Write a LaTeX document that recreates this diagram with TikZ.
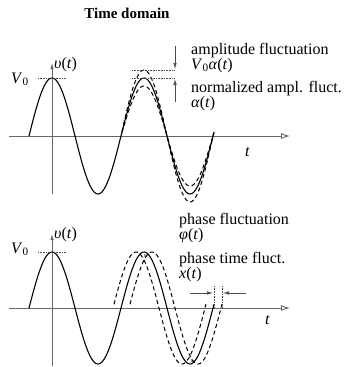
\documentclass[tikz,border=0pt]{standalone}
\usepackage{fontspec}
\setmainfont{Liberation Serif}
\usetikzlibrary{arrows.meta}
\begin{document}
\begin{tikzpicture}[x=1pt,y=-1pt,
  lbl/.style={anchor=base west, inner sep=0pt, font=\fontsize{16}{18}\selectfont},
  axisline/.style={draw=black!60, line width=0.9pt},
  haxis/.style={axisline, -{Latex[open,length=9pt,width=6pt]}},
  vaxis/.style={axisline, -{Latex[length=6pt,width=3.5pt]}},
  wave/.style={line width=1.1pt},
  dwave/.style={line width=1pt, dash pattern=on 4pt off 3pt},
  guide/.style={densely dotted, line width=0.6pt, draw=black!70},
  ind/.style={line width=0.6pt, draw=black!70, -{Latex[length=6pt,width=3.5pt]}},
  xmark/.style={inner sep=0pt, font=\fontsize{6}{6}\selectfont}
]
\useasboundingbox (0,0) rectangle (343,367);

% title
\node[anchor=base, inner sep=0pt, font=\fontsize{15}{17}\selectfont\bfseries] (title) at (127,18) {Time domain};

% ===== top panel =====
\coordinate (ta0) at (9,136);
\coordinate (ta1) at (290,136);
\coordinate (tv0) at (52,194);
\coordinate (tv1) at (52,63);
\draw[haxis] (ta0) -- (ta1);
\draw[vaxis] (tv0) -- (tv1);

\draw[wave] plot[domain=29:214,samples=150,smooth] (\x,{136-58*cos(3.913*(\x-52))});
\draw[dwave] plot[domain=122:214,samples=100,smooth] (\x,{136-66*cos(3.913*(\x-52))});
\draw[dwave] plot[domain=122:214,samples=100,smooth] (\x,{136-50*cos(3.913*(\x-52))});

\coordinate (tg0) at (38,78);
\coordinate (tg1) at (66,78);
\draw[guide] (tg0) -- (tg1);
\coordinate (tu0) at (132,70);
\coordinate (tu1) at (174,70);
\coordinate (tl0) at (132,78);
\coordinate (tl1) at (174,78);
\draw[guide] (tu0) -- (tu1);
\draw[guide] (tl0) -- (tl1);
\coordinate (ad0) at (175,46);
\coordinate (ad1) at (175,69);
\coordinate (au0) at (175,102);
\coordinate (au1) at (175,79);
\draw[ind] (ad0) -- (ad1);
\draw[ind] (au0) -- (au1);

\node[lbl] (tV) at (11,83) {\textit{V}\textsubscript{0}};
\node[lbl] (tv) at (54,68) {\textit{υ}(\textit{t})};
\node[lbl] (tt) at (245,156) {\textit{t}};
\node[lbl] (af) at (191,54) {amplitude fluctuation};
\node[lbl] (afv) at (191,69) {\textit{V}\textsubscript{0}\textit{α}(\textit{t})};
\node[lbl] (naf) at (191,92) {normalized ampl. fluct.};
\node[lbl] (nafv) at (191,107) {\textit{α}(\textit{t})};

% ===== bottom panel =====
\coordinate (ba0) at (9,308);
\coordinate (ba1) at (290,308);
\coordinate (bv0) at (52,366);
\coordinate (bv1) at (52,234);
\draw[haxis] (ba0) -- (ba1);
\draw[vaxis] (bv0) -- (bv1);

\draw[wave] plot[domain=29:214,samples=150,smooth] (\x,{308-56*cos(3.913*(\x-52))});
\draw[dwave] plot[domain=114:206,samples=100,smooth] (\x,{308-56*cos(3.913*(\x-44))});
\draw[dwave] plot[domain=130:222,samples=100,smooth] (\x,{308-56*cos(3.913*(\x-60))});

\coordinate (bg0) at (38,252);
\coordinate (bg1) at (66,252);
\draw[guide] (bg0) -- (bg1);
\coordinate (pd0) at (214,286);
\coordinate (pd1) at (214,310);
\coordinate (pe0) at (222,286);
\coordinate (pe1) at (222,310);
\draw[guide] (pd0) -- (pd1);
\draw[guide] (pe0) -- (pe1);
\coordinate (pr0) at (190,293);
\coordinate (pr1) at (213,293);
\coordinate (pl0) at (246,293);
\coordinate (pl1) at (223,293);
\draw[ind] (pr0) -- (pr1);
\draw[ind] (pl0) -- (pl1);

\node[xmark] (xm1) at (145,256) {x};
\node[xmark] (xm2) at (192,361) {x};

\node[lbl] (bV) at (11,253) {\textit{V}\textsubscript{0}};
\node[lbl] (bvl) at (54,238) {\textit{υ}(\textit{t})};
\node[lbl] (bt) at (265,324) {\textit{t}};
\node[lbl] (pf) at (179,224) {phase fluctuation};
\node[lbl] (pfv) at (179,239) {\textit{φ}(\textit{t})};
\node[lbl] (ptf) at (179,263) {phase time fluct.};
\node[lbl] (ptfv) at (179,278) {\textit{x}(\textit{t})};
\end{tikzpicture}
\end{document}
